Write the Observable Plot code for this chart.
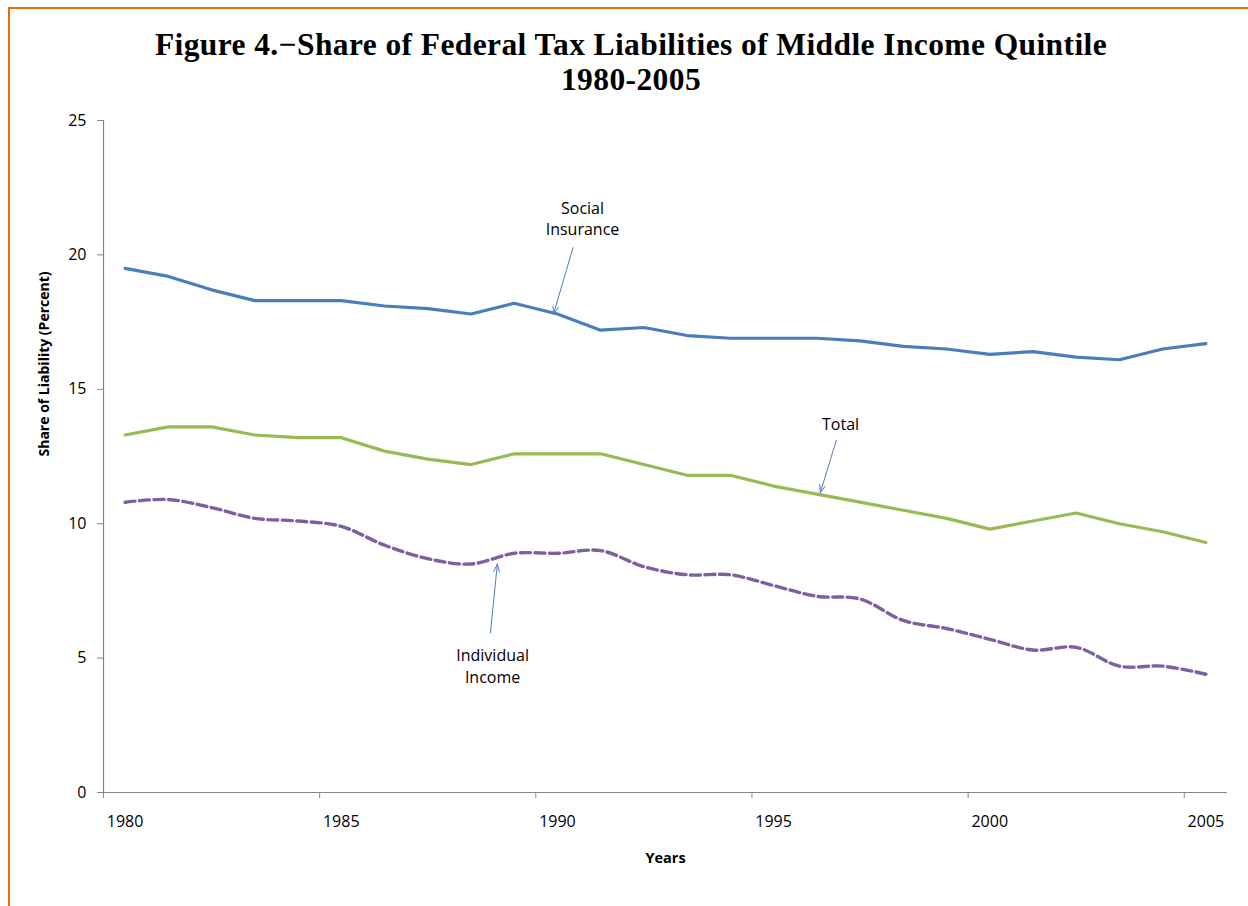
<!DOCTYPE html>
<html>
<head>
<meta charset="utf-8">
<script src="https://cdn.jsdelivr.net/npm/d3@7"></script>
<script src="https://cdn.jsdelivr.net/npm/@observablehq/plot@0.6"></script>
<style>
  html, body { margin: 0; padding: 0; background: #fff; }
  body { width: 1248px; height: 906px; overflow: hidden; position: relative; font-family: "Open Sans", sans-serif; }
  #frame { position: absolute; left: 8px; top: 7px; width: 1300px; height: 960px; z-index: 10; pointer-events: none;
           border-top: 2px solid #E46C0A; border-left: 2px solid #E46C0A; box-sizing: border-box; }
  #title { position: absolute; left: 8px; top: 27px; width: 1246px; text-align: center;
           font-family: "Liberation Serif", "Times New Roman", serif; font-weight: bold;
           font-size: 31.5px; line-height: 35px; letter-spacing: 0.4px; color: #000; }
  #chart { position: absolute; left: 0; top: 100px; }
</style>
</head>
<body>
<div id="chart"></div>
<div id="title">Figure 4.−Share of Federal Tax Liabilities of Middle Income Quintile<br>1980-2005</div>
<div id="frame"></div>
<script>
// ---- Data ----
const years = [1980, 1981, 1982, 1983, 1984, 1985, 1986, 1987, 1988, 1989,
               1990, 1991, 1992, 1993, 1994, 1995, 1996, 1997, 1998, 1999,
               2000, 2001, 2002, 2003, 2004, 2005];
const socialInsurance = [19.5, 19.2, 18.7, 18.3, 18.3, 18.3, 18.1, 18.0, 17.8, 18.2,
                         17.8, 17.2, 17.3, 17.0, 16.9, 16.9, 16.9, 16.8, 16.6, 16.5,
                         16.3, 16.4, 16.2, 16.1, 16.5, 16.7];
const total = [13.3, 13.6, 13.6, 13.3, 13.2, 13.2, 12.7, 12.4, 12.2, 12.6,
               12.6, 12.6, 12.2, 11.8, 11.8, 11.4, 11.1, 10.8, 10.5, 10.2,
               9.8, 10.1, 10.4, 10.0, 9.7, 9.3];
const individualIncome = [10.8, 10.9, 10.6, 10.2, 10.1, 9.9, 9.2, 8.7, 8.5, 8.9,
                          8.9, 9.0, 8.4, 8.1, 8.1, 7.7, 7.3, 7.2, 6.4, 6.1,
                          5.7, 5.3, 5.4, 4.7, 4.7, 4.4];
const xTickLabels = [1980, 1985, 1990, 1995, 2000, 2005];
const yTickValues = [0, 5, 10, 15, 20, 25];
const yLabel = "Share of Liability (Percent)";
const xLabel = "Years";
// Annotation labels and arrows (data coordinates)
const annotationText = ["Social\nInsurance", "Total", "Individual\nIncome"];
const annotationX = [1990.58, 1996.55, 1988.5];
const annotationY = [21.39, 13.76, 4.75];
const arrowFromX = [1990.36, 1996.45, 1988.45];
const arrowFromY = [20.27, 13.1, 5.94];
const arrowToX = [1989.91, 1996.08, 1988.61];
const arrowToY = [17.8, 11.15, 8.5];

// ---- Build tables ----
const rows = (vals) => years.map((year, i) => ({year, value: vals[i]}));
const siRows = rows(socialInsurance);
const totRows = rows(total);
const indRows = rows(individualIncome);
const annotations = annotationText.map((text, i) => ({text, x: annotationX[i], y: annotationY[i]}));
const arrows = arrowFromX.map((x1, i) => ({x1, y1: arrowFromY[i], x2: arrowToX[i], y2: arrowToY[i]}));
// category boundaries (Excel category axis: ticks between categories)
const boundaries = xTickLabels.map(y => y - 0.5);

const axisColor = "#868686";

const chart = Plot.plot({
  width: 1248,
  height: 772,
  marginLeft: 103,
  marginRight: 21,
  marginTop: 20,
  marginBottom: 80,
  style: {fontFamily: "'Open Sans', sans-serif", fontSize: "16px", background: "transparent", overflow: "visible"},
  x: {domain: [years[0] - 0.5, years[years.length - 1] + 0.5]},
  y: {domain: [0, 25]},
  marks: [
    Plot.ruleY([0], {stroke: axisColor, strokeWidth: 1.2}),
    Plot.ruleX([years[0] - 0.5], {stroke: axisColor, strokeWidth: 1.2}),
    Plot.axisY(yTickValues, {tickSize: 6, tickPadding: 11, stroke: axisColor, fill: "#000", fontSize: 16, label: null, tickFormat: d => String(d)}),
    Plot.axisX(boundaries, {tickSize: 6, tickPadding: 0, stroke: axisColor, tickFormat: () => "", label: null}),
    Plot.axisX(xTickLabels, {tickSize: 0, tickPadding: 23, fill: "#000", fontSize: 16, label: null, tickFormat: d => String(d)}),
    Plot.line(siRows, {x: "year", y: "value", stroke: "#4A7EBB", strokeWidth: 3.2}),
    Plot.line(totRows, {x: "year", y: "value", stroke: "#98B954", strokeWidth: 3.2}),
    Plot.line(indRows, {x: "year", y: "value", stroke: "#7D60A0", strokeWidth: 3.4, strokeDasharray: "10,4.5", curve: "catmull-rom"}),
    Plot.arrow(arrows, {x1: "x1", y1: "y1", x2: "x2", y2: "y2", stroke: "#4A7EBB", strokeWidth: 1, headLength: 12, headAngle: 40}),
    Plot.text(annotations, {x: "x", y: "y", text: "text", fill: "#000", fontSize: 16, lineHeight: 1.35}),
    Plot.text([yLabel], {frameAnchor: "left", dx: -59, rotate: -90, fontWeight: "bold", fontSize: 14, fill: "#000"}),
    Plot.text([xLabel], {frameAnchor: "bottom", dy: 70, fontWeight: "bold", fontSize: 14.5, fill: "#000"})
  ]
});
document.getElementById("chart").appendChild(chart);
</script>
</body>
</html>
